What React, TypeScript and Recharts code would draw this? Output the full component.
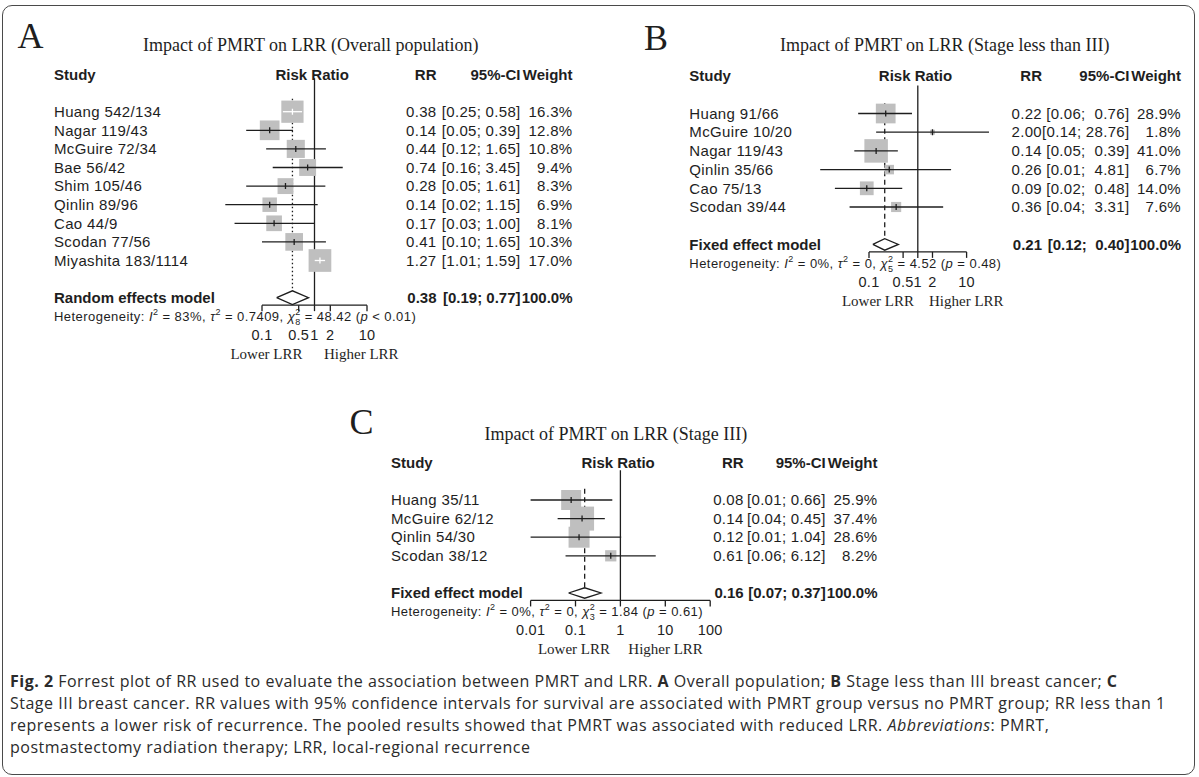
import React from 'react';
import { ScatterChart, Scatter, XAxis, YAxis, ZAxis, ErrorBar, ReferenceLine } from 'recharts';

const SANS = '"Liberation Sans", Arial, sans-serif';
const SERIF = '"Liberation Serif", "Times New Roman", serif';
const CAPTION_FONT = '"Open Sans", "Noto Sans", sans-serif';
const INK = '#1e1e1e';
const BOX_FILL = '#bfbfbf';
const YW = 2;
const XH = 30;

// A: overall population (random effects)
const studiesA = ['Huang 542/134', 'Nagar 119/43', 'McGuire 72/34', 'Bae 56/42', 'Shim 105/46', 'Qinlin 89/96', 'Cao 44/9', 'Scodan 77/56', 'Miyashita 183/1114'];
const rrA = [0.38, 0.14, 0.44, 0.74, 0.28, 0.14, 0.17, 0.41, 1.27];
const loA = [0.25, 0.05, 0.12, 0.16, 0.05, 0.02, 0.03, 0.10, 1.01];
const hiA = [0.58, 0.39, 1.65, 3.45, 1.61, 1.15, 1.00, 1.65, 1.59];
const weightA = [16.3, 12.8, 10.8, 9.4, 8.3, 6.9, 8.1, 10.3, 17.0];
const pooledA = [0.38, 0.19, 0.77];
const hetA = { i2: '83%', tau2: '0.7409', df: '8', q: '48.42', p: '< 0.01' };
const ticksA = [0.1, 0.5, 1, 2, 10];

// B: stage less than III (fixed effect)
const studiesB = ['Huang 91/66', 'McGuire 10/20', 'Nagar 119/43', 'Qinlin 35/66', 'Cao 75/13', 'Scodan 39/44'];
const rrB = [0.22, 2.00, 0.14, 0.26, 0.09, 0.36];
const loB = [0.06, 0.14, 0.05, 0.01, 0.02, 0.04];
const hiB = [0.76, 28.76, 0.39, 4.81, 0.48, 3.31];
const weightB = [28.9, 1.8, 41.0, 6.7, 14.0, 7.6];
const pooledB = [0.21, 0.12, 0.40];
const hetB = { i2: '0%', tau2: '0', df: '5', q: '4.52', p: '= 0.48' };
const ticksB = [0.1, 0.5, 1, 2, 10];

// C: stage III (fixed effect)
const studiesC = ['Huang 35/11', 'McGuire 62/12', 'Qinlin 54/30', 'Scodan 38/12'];
const rrC = [0.08, 0.14, 0.12, 0.61];
const loC = [0.01, 0.04, 0.01, 0.06];
const hiC = [0.66, 0.45, 1.04, 6.12];
const weightC = [25.9, 37.4, 28.6, 8.2];
const pooledC = [0.16, 0.07, 0.37];
const hetC = { i2: '0%', tau2: '0', df: '3', q: '1.84', p: '= 0.61' };
const ticksC = [0.01, 0.1, 1, 10, 100];

const panels = [
  {
    letter: 'A', title: 'Impact of PMRT on LRR (Overall population)', model: 'Random effects model',
    studies: studiesA, rr: rrA, lo: loA, hi: hiA, weight: weightA, pooled: pooledA, het: hetA, ticks: ticksA,
    frame: { left: 0, top: 0, width: 600, height: 380 },
    x1: 314.5, ppd: 52.5, span: 2, y0: 111.7, rowH: 18.6,
    nameX: 54, rrEnd: 436.5, ciEnd: 520.5, wEnd: 572.5,
    letterX: 17.5, letterY: 35, titleX: 143, titleY: 45,
    refTop: -1.8, pooledTop: -0.7, pooledDash: '1.6 2.4', diamondH: 0.37, boxMax: 22.7,
    lowerEnd: 302.5, higherStart: 324, axisGap: 0.4,
  },
  {
    letter: 'B', title: 'Impact of PMRT on LRR (Stage less than III)', model: 'Fixed effect model',
    studies: studiesB, rr: rrB, lo: loB, hi: hiB, weight: weightB, pooled: pooledB, het: hetB, ticks: ticksB,
    frame: { left: 600, top: 0, width: 599, height: 330 },
    x1: 917.8, ppd: 48.8, span: 2.3, y0: 113.5, rowH: 18.7,
    nameX: 689.3, rrEnd: 1042, ciEnd: 1129.4, wEnd: 1181,
    letterX: 644, letterY: 37, titleX: 780, titleY: 45,
    refTop: -1.5, pooledTop: -0.55, pooledDash: '5 3.5', diamondH: 0.31, boxMax: 23.5,
    lowerEnd: 914, higherStart: 929, axisGap: 0.4,
  },
  {
    letter: 'C', title: 'Impact of PMRT on LRR (Stage III)', model: 'Fixed effect model',
    studies: studiesC, rr: rrC, lo: loC, hi: hiC, weight: weightC, pooled: pooledC, het: hetC, ticks: ticksC,
    frame: { left: 300, top: 380, width: 600, height: 300 },
    x1: 620.4, ppd: 44.9, span: 3, y0: 500, rowH: 18.6,
    nameX: 391, rrEnd: 743.6, ciEnd: 825.7, wEnd: 877.5,
    letterX: 349.6, letterY: 421.7, titleX: 484.6, titleY: 433.3,
    refTop: -1.6, pooledTop: -0.6, pooledDash: '5 3.5', diamondH: 0.28, boxMax: 24,
    lowerEnd: 610, higherStart: 628.3, axisGap: 0.4,
  },
];

const BoxShape = (props: any) => {
  const { cx, cy, width } = props;
  const s = Number.isFinite(width) ? width : 2 * Math.sqrt((props.size || 0) / Math.PI);
  return <rect x={cx - s / 2} y={cy - s / 2} width={s} height={s} fill={BOX_FILL} />;
};

const tickShape = (color: string) => (props: any) => (
  <line x1={props.cx} x2={props.cx} y1={props.cy - 3} y2={props.cy + 3} stroke={color} strokeWidth={1.3} />
);

function HetLine({ x, y, het }: any) {
  return (
    <text x={x} y={y} dy="0.35em" fontFamily={SANS} fontSize={13} letterSpacing={0.45} fill={INK}>
      <tspan>Heterogeneity: </tspan>
      <tspan fontStyle="italic">I</tspan>
      <tspan fontSize={9} dy={-6}>2</tspan>
      <tspan dy={6}>{` = ${het.i2}, `}</tspan>
      <tspan fontStyle="italic">τ</tspan>
      <tspan fontSize={9} dy={-6}>2</tspan>
      <tspan dy={6}>{` = ${het.tau2}, `}</tspan>
      <tspan fontStyle="italic">χ</tspan>
      <tspan fontSize={9} dy={-6}>2</tspan>
      <tspan fontSize={9} dx={-5.5} dy={10}>{het.df}</tspan>
      <tspan dy={-4}>{` = ${het.q} (`}</tspan>
      <tspan fontStyle="italic">p</tspan>
      <tspan>{` ${het.p})`}</tspan>
    </text>
  );
}

function ForestPanel({ p }: { p: any }) {
  const { frame } = p;
  const n = p.studies.length;
  const sumRow = n + 1;
  const axisRow = sumRow + p.axisGap;
  const maxW = Math.max(...p.weight);
  const plotLeft = p.x1 - p.span * p.ppd;
  const plotRight = p.x1 + p.span * p.ppd;
  const plotTop = p.y0 - 3 * p.rowH;
  const plotBottom = p.y0 + axisRow * p.rowH;
  const margin = {
    left: plotLeft - frame.left - YW,
    right: frame.left + frame.width - plotRight - YW,
    top: plotTop - frame.top,
    bottom: frame.top + frame.height - plotBottom - XH,
  };
  const fx = (x: number) => x - frame.left;
  const rowY = (r: number) => p.y0 + r * p.rowH;
  const xDomain = [10 ** -p.span, 10 ** p.span];
  const yDomain = [-3, axisRow];

  // box side grows with sqrt(weight); CI drawn white when it fits inside its box
  const boxSide = (w: number) => p.boxMax * Math.sqrt(w / maxW);
  const rows = p.studies.map((name: string, i: number) => ({
    name, x: p.rr[i], y: i, w: p.weight[i],
    err: [p.rr[i] - p.lo[i], p.hi[i] - p.rr[i]],
    inside: Math.log10(p.hi[i] / p.lo[i]) * p.ppd < boxSide(p.weight[i]),
  }));
  const outside = rows.filter((r: any) => !r.inside);
  const inside = rows.filter((r: any) => r.inside);

  const [prr, plo, phi] = p.pooled;
  const diamond = [
    { x: plo, y: sumRow }, { x: prr, y: sumRow - p.diamondH }, { x: phi, y: sumRow },
    { x: prr, y: sumRow + p.diamondH }, { x: plo, y: sumRow },
  ];

  const hiWidth = Math.max(...[...p.hi, phi].map((v: number) => v.toFixed(2).length));
  const loWidth = Math.max(...[...p.lo, plo].map((v: number) => v.toFixed(2).length));
  const pad = (s: string, w: number) => '\u00A0'.repeat(Math.max(0, w - s.length)) + s;
  const ci = (lo: number, hi: number) => `[${pad(lo.toFixed(2), loWidth)}; ${pad(hi.toFixed(2), hiWidth)}]`;

  const rowTicks = [-2, ...rows.map((r: any) => r.y), sumRow];
  const txt = { fontFamily: SANS, fontSize: 15, fill: INK, dy: '0.35em' };

  const leftTick = (props: any) => {
    const v = props.payload.value;
    const y = props.y;
    if (v === -2) {
      return (
        <g fontWeight="bold">
          <text x={fx(p.nameX)} y={y} {...txt}>Study</text>
          <text x={fx(p.x1 - 2.3)} y={y} textAnchor="middle" {...txt}>Risk Ratio</text>
        </g>
      );
    }
    if (v === sumRow) {
      return <text x={fx(p.nameX)} y={y} fontWeight="bold" {...txt}>{p.model}</text>;
    }
    return <text x={fx(p.nameX)} y={y} letterSpacing={0.35} {...txt}>{p.studies[v]}</text>;
  };

  const rightTick = (props: any) => {
    const v = props.payload.value;
    const y = props.y;
    if (v === -2) {
      return (
        <g fontWeight="bold">
          <text x={fx(p.rrEnd)} y={y} textAnchor="end" {...txt}>RR</text>
          <text x={fx(p.ciEnd)} y={y} textAnchor="end" {...txt}>95%-CI</text>
          <text x={fx(p.wEnd)} y={y} textAnchor="end" {...txt}>Weight</text>
        </g>
      );
    }
    const bold = v === sumRow;
    const rr = bold ? prr : p.rr[v];
    const lo = bold ? plo : p.lo[v];
    const hi = bold ? phi : p.hi[v];
    const w = bold ? 100 : p.weight[v];
    return (
      <g fontWeight={bold ? 'bold' : 'normal'} letterSpacing={bold ? 0 : 0.3}>
        <text x={fx(p.rrEnd)} y={y} textAnchor="end" {...txt}>{rr.toFixed(2)}</text>
        <text x={fx(p.ciEnd)} y={y} textAnchor="end" {...txt}>{ci(lo, hi)}</text>
        <text x={fx(p.wEnd)} y={y} textAnchor="end" {...txt}>{`${w.toFixed(1)}%`}</text>
      </g>
    );
  };

  const xTick = (props: any) => (
    <text x={props.x} y={rowY(sumRow + 2) - frame.top} dy="0.35em" textAnchor="middle"
      fontFamily={SANS} fontSize={14.5} letterSpacing={0.3} fill={INK}>
      {String(props.payload.value)}
    </text>
  );

  // both layers share the same axes so their scales line up exactly
  const axes = (withText: boolean) => [
    <XAxis key="x" type="number" dataKey="x" scale="log" domain={xDomain} allowDataOverflow
      ticks={p.ticks} interval={0} tickSize={6} height={XH} axisLine={false}
      tickLine={withText ? { stroke: INK, strokeWidth: 1.3 } : false} tick={withText ? xTick : false} />,
    <YAxis key="yl" yAxisId="l" type="number" dataKey="y" domain={yDomain} reversed allowDataOverflow
      ticks={rowTicks} interval={0} width={YW} axisLine={false} tickLine={false} tick={withText ? leftTick : false} />,
    <YAxis key="yr" yAxisId="r" orientation="right" type="number" dataKey="y" domain={yDomain} reversed allowDataOverflow
      ticks={rowTicks} interval={0} width={YW} axisLine={false} tickLine={false} tick={withText ? rightTick : false} />,
    <ZAxis key="z" type="number" dataKey="w" domain={[0, maxW]} range={[0, Math.PI * (p.boxMax / 2) ** 2]} />,
  ];

  const layer: React.CSSProperties = { position: 'absolute', left: 0, top: 0 };

  return (
    <div style={{ position: 'absolute', left: frame.left, top: frame.top, width: frame.width, height: frame.height }}>
      <div style={layer}>
        <ScatterChart width={frame.width} height={frame.height} margin={margin}>
          {axes(true)}
          <ReferenceLine yAxisId="l" segment={[{ x: 1, y: p.refTop }, { x: 1, y: axisRow }]} stroke={INK} strokeWidth={1.3} />
          <ReferenceLine yAxisId="l" segment={[{ x: p.ticks[0], y: axisRow }, { x: p.ticks[p.ticks.length - 1], y: axisRow }]}
            stroke={INK} strokeWidth={1.3} />
          <ReferenceLine yAxisId="l" segment={[{ x: prr, y: p.pooledTop }, { x: prr, y: sumRow - p.diamondH }]}
            stroke={INK} strokeWidth={1.3} strokeDasharray={p.pooledDash} />
          <Scatter yAxisId="l" data={rows} shape={BoxShape} isAnimationActive={false} />
          <Scatter yAxisId="l" data={diamond} line={{ stroke: INK, strokeWidth: 1.3 }} lineType="joint"
            shape={() => <g />} isAnimationActive={false} />
        </ScatterChart>
      </div>
      <div style={layer}>
        <ScatterChart width={frame.width} height={frame.height} margin={margin}>
          {axes(false)}
          <Scatter yAxisId="l" data={outside} shape={tickShape(INK)} isAnimationActive={false}>
            <ErrorBar dataKey="err" direction="x" width={0} stroke={INK} strokeWidth={1.3} isAnimationActive={false} />
          </Scatter>
          <Scatter yAxisId="l" data={inside} shape={tickShape('#ffffff')} isAnimationActive={false}>
            <ErrorBar dataKey="err" direction="x" width={0} stroke="#ffffff" strokeWidth={1.3} isAnimationActive={false} />
          </Scatter>
        </ScatterChart>
      </div>
      <svg width={frame.width} height={frame.height}
        style={{ position: 'absolute', left: 0, top: 0, overflow: 'visible', pointerEvents: 'none' }}>
        <g transform={`translate(${-frame.left},${-frame.top})`}>
          <text x={p.letterX} y={p.letterY} dy="0.35em" fontFamily={SERIF} fontSize={36} fill={INK}>{p.letter}</text>
          <text x={p.titleX} y={p.titleY} dy="0.35em" fontFamily={SERIF} fontSize={18} fill={INK}>{p.title}</text>
          <HetLine x={p.nameX} y={rowY(sumRow + 1)} het={p.het} />
          <text x={p.lowerEnd} y={rowY(sumRow + 3)} dy="0.35em" textAnchor="end" fontFamily={SERIF} fontSize={15} fill={INK}>Lower LRR</text>
          <text x={p.higherStart} y={rowY(sumRow + 3)} dy="0.35em" fontFamily={SERIF} fontSize={15} fill={INK}>Higher LRR</text>
        </g>
      </svg>
    </div>
  );
}

const captionLine = (top: number, children: React.ReactNode) => (
  <div style={{
    position: 'absolute', left: 10, top, whiteSpace: 'nowrap', fontFamily: CAPTION_FONT,
    fontSize: 16, letterSpacing: 0.5, lineHeight: '20px', color: '#2b2b2b',
  }}>{children}</div>
);

export default function App() {
  return (
    <div style={{ position: 'absolute', left: 0, top: 0, width: 1199, height: 777, background: '#ffffff', overflow: 'hidden' }}>
      <div style={{
        position: 'absolute', left: 2, top: 5, width: 1193, height: 770, boxSizing: 'border-box',
        border: '1.5px solid #4a4a4a', borderRadius: 10,
      }} />
      {panels.map((p) => <ForestPanel key={p.letter} p={p} />)}
      {captionLine(671, <>
        <b>Fig. 2</b> Forrest plot of RR used to evaluate the association between PMRT and LRR. <b>A</b> Overall population; <b>B</b> Stage less than III breast cancer; <b>C</b>
      </>)}
      {captionLine(693, <>
        Stage III breast cancer. RR values with 95% confidence intervals for survival are associated with PMRT group versus no PMRT group; RR less than 1
      </>)}
      {captionLine(715, <>
        represents a lower risk of recurrence. The pooled results showed that PMRT was associated with reduced LRR. <i>Abbreviations</i>: PMRT,
      </>)}
      {captionLine(737, <>postmastectomy radiation therapy; LRR, local-regional recurrence</>)}
    </div>
  );
}
